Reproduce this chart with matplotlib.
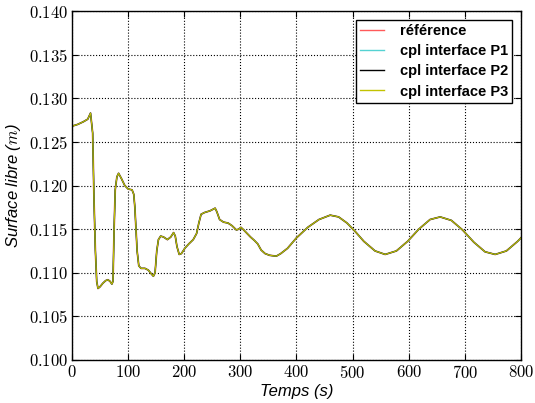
import matplotlib
matplotlib.use('Agg')
import matplotlib.pyplot as plt
from matplotlib.ticker import MultipleLocator, FuncFormatter

plt.rcParams['mathtext.fontset'] = 'cm'
plt.rcParams['font.family'] = ['Liberation Sans', 'DejaVu Sans']

# temps (s) et surface libre (m)
temps = [0, 10, 20, 28, 33, 36.8, 39.2, 41.6, 44, 46.3, 50, 55, 60, 64, 68, 71, 73,
         75, 77, 80, 83, 88, 94, 100, 107, 110, 112, 114, 116, 119, 123, 130, 136,
         141, 145, 148, 151, 154, 158, 163, 170, 176, 181, 184, 187, 191, 195, 201,
         208, 216, 222, 226, 230, 236, 246, 252, 255, 258, 263, 270, 278, 285, 293,
         297, 301, 306, 312, 318, 325, 331, 337, 344, 352, 364, 372, 384, 400, 420,
         440, 460, 475, 490, 505, 520, 540, 558, 578, 598, 618, 638, 656, 676, 696,
         716, 736, 754, 774, 794, 800]
surface = [0.1268, 0.1270, 0.1273, 0.1276, 0.1283, 0.1260, 0.1183, 0.1126, 0.1090,
           0.1082, 0.1084, 0.1088, 0.1091, 0.1092, 0.1090, 0.1087, 0.1090,
           0.1150, 0.1195, 0.1210, 0.1214, 0.1208, 0.1200, 0.1196, 0.1195, 0.1190,
           0.1175, 0.1150, 0.1125, 0.1108, 0.1105, 0.1105, 0.1103,
           0.1099, 0.1096, 0.1100, 0.1125, 0.1138, 0.1142, 0.1141, 0.1138, 0.1141,
           0.1146, 0.1142, 0.1130, 0.1121, 0.1122, 0.1128,
           0.1133, 0.1138, 0.1145, 0.1157, 0.1167, 0.1169, 0.1171, 0.1173, 0.1174,
           0.1170, 0.1161, 0.1158, 0.1157, 0.1154, 0.1149,
           0.1150, 0.1152, 0.1149, 0.1145, 0.1141, 0.1137, 0.1133, 0.1126, 0.1122,
           0.1120, 0.1119, 0.1122, 0.1128, 0.1140, 0.1152,
           0.1161, 0.1166, 0.1164, 0.1157, 0.1147, 0.1136, 0.1125, 0.1121, 0.1125,
           0.1136, 0.1150, 0.1161, 0.1164, 0.1160, 0.1149,
           0.1135, 0.1124, 0.1121, 0.1125, 0.1136, 0.1140]

series = ['référence', 'cpl interface P1', 'cpl interface P2', 'cpl interface P3']
colors = ['#ff5a5a', '#55d2d2', '#000000', '#c2c200']
widths = [1.3, 1.1, 0.9, 0.8]

fig = plt.figure(figsize=(5.35, 4.03), dpi=100)
ax = fig.add_axes([0.1346, 0.1067, 0.8392, 0.866])

for name, c, w in zip(series, colors, widths):
    ax.plot(temps, surface, color=c, linewidth=w, label=name)

ax.set_xlim(0, 800)
ax.set_ylim(0.100, 0.140)
ax.xaxis.set_major_locator(MultipleLocator(100))
ax.yaxis.set_major_locator(MultipleLocator(0.005))
ax.xaxis.set_major_formatter(FuncFormatter(lambda v, p: '$%d$' % v))
ax.yaxis.set_major_formatter(FuncFormatter(lambda v, p: '$%.3f$' % v))
ax.tick_params(direction='in', top=True, right=True, length=4, width=0.8,
               labelsize=12, pad=3)
ax.grid(True, color='black', linestyle=':', linewidth=0.8)
for s in ax.spines.values():
    s.set_linewidth(1.0)

ax.set_xlabel('Temps (s)', fontsize=12, style='italic', labelpad=2)
ax.set_ylabel('Surface libre ($m$)', fontsize=12, style='italic', labelpad=4)

leg = ax.legend(loc='upper right', fancybox=False, framealpha=1,
                edgecolor='black', prop={'weight': 'bold', 'size': 10.5},
                handlelength=1.6, handletextpad=1.1, borderpad=0.3,
                labelspacing=0.42, borderaxespad=0.6)
leg.get_frame().set_linewidth(1.0)
for h in leg.get_lines():
    h.set_linewidth(1.0)

fig.savefig('out.png', dpi=100)
